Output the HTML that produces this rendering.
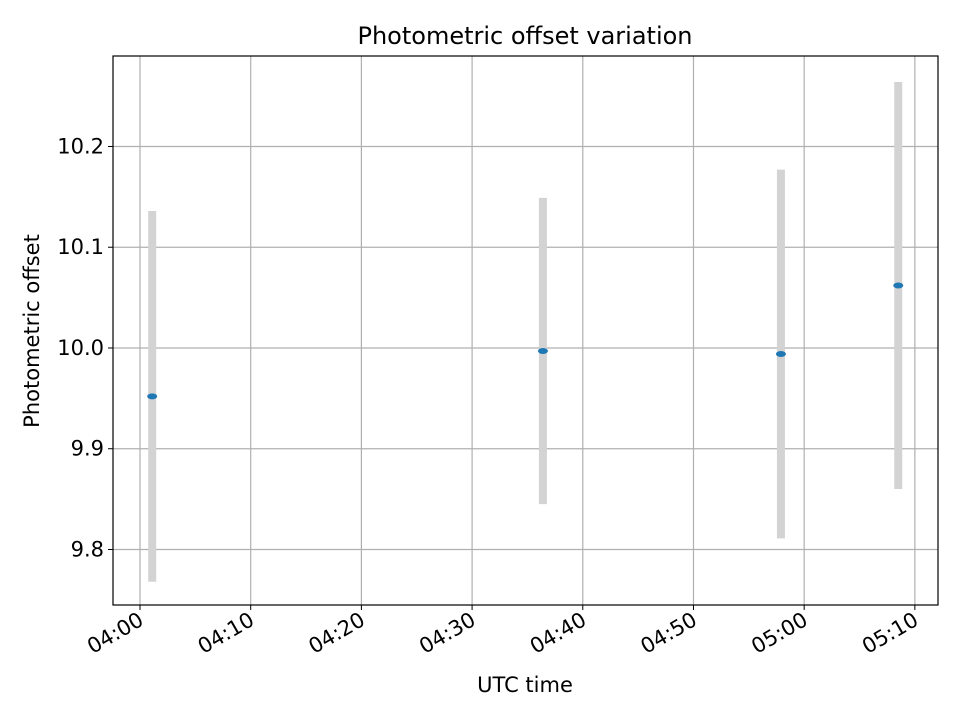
<!DOCTYPE html>
<html><head><meta charset="utf-8"><style>
body{margin:0;background:#fff;}
svg text{font-family:"DejaVu Sans","Liberation Sans",sans-serif;fill:#000;}
</style></head><body>
<svg id="chart" width="960" height="720" viewBox="0 0 960 720" xmlns="http://www.w3.org/2000/svg">
<rect width="960" height="720" fill="#fff"/>
<g id="grid"></g>
<g id="bars"></g>
<g id="points"></g>
<rect x="113" y="56" width="825" height="549" fill="none" stroke="#000" stroke-width="1.2"/>
<g id="xticks"></g>
<g id="yticks"></g>
<text x="525" y="44" text-anchor="middle" font-size="24">Photometric offset variation</text>
<text x="525" y="692" text-anchor="middle" font-size="21">UTC time</text>
<text transform="translate(39,331) rotate(-90)" text-anchor="middle" font-size="21">Photometric offset</text>
</svg>
<script>
// minutes after 04:00 UTC
const times = [1.1, 36.4, 57.9, 68.5];
const offsets = [9.952, 9.997, 9.994, 10.062];
const errors = [0.184, 0.152, 0.183, 0.202];
const xTickMinutes = [0, 10, 20, 30, 40, 50, 60, 70];
const xTickLabels = ["04:00","04:10","04:20","04:30","04:40","04:50","05:00","05:10"];
const yTickValues = [9.8, 9.9, 10.0, 10.1, 10.2];
const yTickLabels = ["9.8","9.9","10.0","10.1","10.2"];

const L=113,R=938,T=56,B=605;
const xMin=-2.44,xMax=72.09,yMin=9.7449,yMax=10.2898;
const xs=m=>L+(m-xMin)/(xMax-xMin)*(R-L);
const ys=v=>B-(v-yMin)/(yMax-yMin)*(B-T);
const NS="http://www.w3.org/2000/svg";
function mk(tag,attrs,parent){const e=document.createElementNS(NS,tag);for(const k in attrs)e.setAttribute(k,attrs[k]);document.getElementById(parent).appendChild(e);return e;}

xTickMinutes.forEach((m,i)=>{
  const x=xs(m);
  const g=mk('line',{x1:x,x2:x,y1:T,y2:B,stroke:'#b0b0b0','stroke-width':1.2},'grid');
  
  
  const t=mk('line',{x1:x,x2:x,y1:B,y2:B+5,stroke:'#000','stroke-width':1},'xticks');
  
  
  const tx=mk('text',{transform:`translate(${x+5},${B+19}) rotate(-30)`,'text-anchor':'end','font-size':21},'xticks');
  tx.textContent=xTickLabels[i];
  
  
});
yTickValues.forEach((v,i)=>{
  const y=ys(v);
  const g=mk('line',{x1:L,x2:R,y1:y,y2:y,stroke:'#b0b0b0','stroke-width':1.2},'grid');
  
  
  const t=mk('line',{x1:L-5,x2:L,y1:y,y2:y,stroke:'#000','stroke-width':1},'yticks');
  
  
  const tx=mk('text',{x:L-9,y:y+7,'text-anchor':'end','font-size':21},'yticks');
  tx.textContent=yTickLabels[i];
  
  
});
times.forEach((m,i)=>{
  const x=xs(m);
  const b=mk('line',{x1:x,x2:x,y1:ys(offsets[i]+errors[i]),y2:ys(offsets[i]-errors[i]),stroke:'#d3d3d3','stroke-width':8},'bars');
  
  
  const p=mk('ellipse',{cx:x,cy:ys(offsets[i]),rx:5,ry:3,fill:'#1f77b4'},'points');
  
  
});
</script>
</body></html>
